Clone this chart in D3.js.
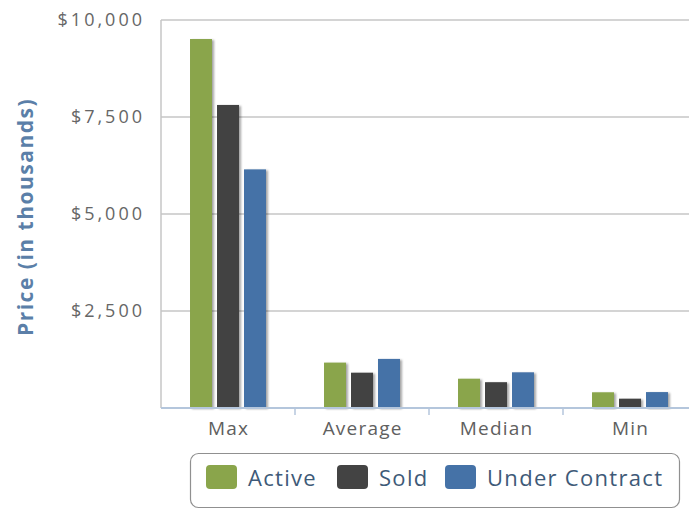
<!DOCTYPE html>
<html>
<head>
<meta charset="utf-8">
<script src="https://cdn.jsdelivr.net/npm/d3@7"></script>
<style>
  body { margin: 0; background: #fff; }
  svg { display: block; font-family: "Open Sans", sans-serif; }
</style>
</head>
<body>
<main></main>
<script>
// data (thousands of $)
const categories = ['Max', 'Average', 'Median', 'Min'];
const seriesNames = ['Active', 'Sold', 'Under Contract'];
const active = [9510, 1170, 755, 405];
const sold = [7810, 910, 665, 240];
const underContract = [6150, 1265, 920, 410];
const yTicks = [2500, 5000, 7500, 10000];

const colors = ['#8aa54b', '#434343', '#4572a7'];

const size = { width: 689, height: 509 };
const plot = { left: 161, top: 20, right: 697, bottom: 408 };

const svg = d3.select('main').append('svg')
    .attr('width', size.width)
    .attr('height', size.height);

// shadow like the original bars
const defs = svg.append('defs');
defs.append('filter').attr('id', 'shadow')
    .attr('x', '-20%').attr('y', '-5%').attr('width', '150%').attr('height', '115%')
  .append('feDropShadow')
    .attr('dx', 2).attr('dy', 1).attr('stdDeviation', 1.2)
    .attr('flood-color', '#000').attr('flood-opacity', 0.35);

const x0 = d3.scaleBand()
    .domain(categories)
    .range([plot.left, plot.right])
    .paddingInner(0.433)
    .paddingOuter(0.2165);

const x1 = d3.scaleBand()
    .domain(seriesNames)
    .range([0, x0.bandwidth()])
    .paddingInner(0.185);

const y = d3.scaleLinear()
    .domain([0, 10000])
    .range([plot.bottom, plot.top]);

// grid lines
svg.append('g')
    .selectAll('line')
    .data(yTicks)
    .join('line')
    .attr('x1', plot.left).attr('x2', plot.right)
    .attr('y1', d => y(d)).attr('y2', d => y(d))
    .attr('stroke', '#c6c6c6').attr('stroke-width', 1.5);

// left border
svg.append('line')
    .attr('x1', plot.left).attr('x2', plot.left)
    .attr('y1', plot.top).attr('y2', plot.bottom)
    .attr('stroke', '#c6c6c6').attr('stroke-width', 1.5);

// y axis labels
const yAxis = svg.append('g')
    .attr('transform', `translate(${plot.left - 16},0)`)
    .call(d3.axisLeft(y).tickValues(yTicks).tickSize(0).tickFormat(d => '$' + d3.format(',')(d)));
yAxis.select('.domain').remove();
yAxis.selectAll('text')
    .attr('fill', '#666')
    .style('font-size', '18px')
    .style('letter-spacing', '3px')
    .style('font-family', '"Open Sans", sans-serif')
    .attr('x', 0);

// y title
svg.append('text')
    .attr('transform', `translate(33,${(plot.top + plot.bottom) / 2 + 3}) rotate(-90)`)
    .attr('text-anchor', 'middle')
    .attr('fill', '#5b7fa8')
    .style('font-size', '21px')
    .style('letter-spacing', '1.5px')
    .style('font-weight', 'bold')
    .text('Price (in thousands)');

// bars
const table = categories.map((c, i) => ({
    cat: c,
    vals: [active[i], sold[i], underContract[i]]
}));

svg.append('g')
    .selectAll('g')
    .data(table)
    .join('g')
    .attr('transform', d => `translate(${x0(d.cat)},0)`)
    .selectAll('rect')
    .data(d => d.vals.map((v, j) => ({ name: seriesNames[j], v, j })))
    .join('rect')
    .attr('x', d => x1(d.name))
    .attr('y', d => y(d.v))
    .attr('width', x1.bandwidth())
    .attr('height', d => y(0) - y(d.v))
    .attr('fill', d => colors[d.j])
    .attr('filter', 'url(#shadow)');

// x axis
const xAxis = svg.append('g')
    .attr('transform', `translate(0,${plot.bottom})`)
    .call(d3.axisBottom(x0).tickSize(0).tickPadding(14));
xAxis.select('.domain')
    .attr('stroke', '#b4c6dc').attr('stroke-width', 2)
    .attr('d', `M${plot.left},0H${plot.right}`);
xAxis.selectAll('text')
    .attr('fill', '#606060')
    .attr('dx', '0.6px')
    .style('font-size', '19px')
    .style('letter-spacing', '1.2px')
    .style('font-family', '"Open Sans", sans-serif');
// band edge ticks
xAxis.append('g')
    .selectAll('line')
    .data(categories.slice(1))
    .join('line')
    .attr('x1', d => x0(d) - x0.step() * x0.paddingInner() / 2)
    .attr('x2', d => x0(d) - x0.step() * x0.paddingInner() / 2)
    .attr('y1', 0).attr('y2', 7)
    .attr('stroke', '#b4c6dc').attr('stroke-width', 1.5);

// legend
const legend = svg.append('g').attr('transform', 'translate(190,453)');
legend.append('rect')
    .attr('x', 0.5).attr('y', 0.5)
    .attr('width', 489).attr('height', 54)
    .attr('rx', 8)
    .attr('fill', '#fff')
    .attr('stroke', '#909090').attr('stroke-width', 1.2);

const itemX = [16, 147, 255];
const items = legend.selectAll('g.item')
    .data(seriesNames)
    .join('g')
    .attr('class', 'item')
    .attr('transform', (d, i) => `translate(${itemX[i]},12)`);
items.append('rect')
    .attr('width', 31).attr('height', 24)
    .attr('rx', 4)
    .attr('fill', (d, i) => colors[i]);
items.append('text')
    .attr('x', 42).attr('y', 21)
    .attr('fill', '#3e5a78')
    .style('font-size', '22px')
    .style('letter-spacing', '1.3px')
    .text(d => d);
</script>
</body>
</html>
